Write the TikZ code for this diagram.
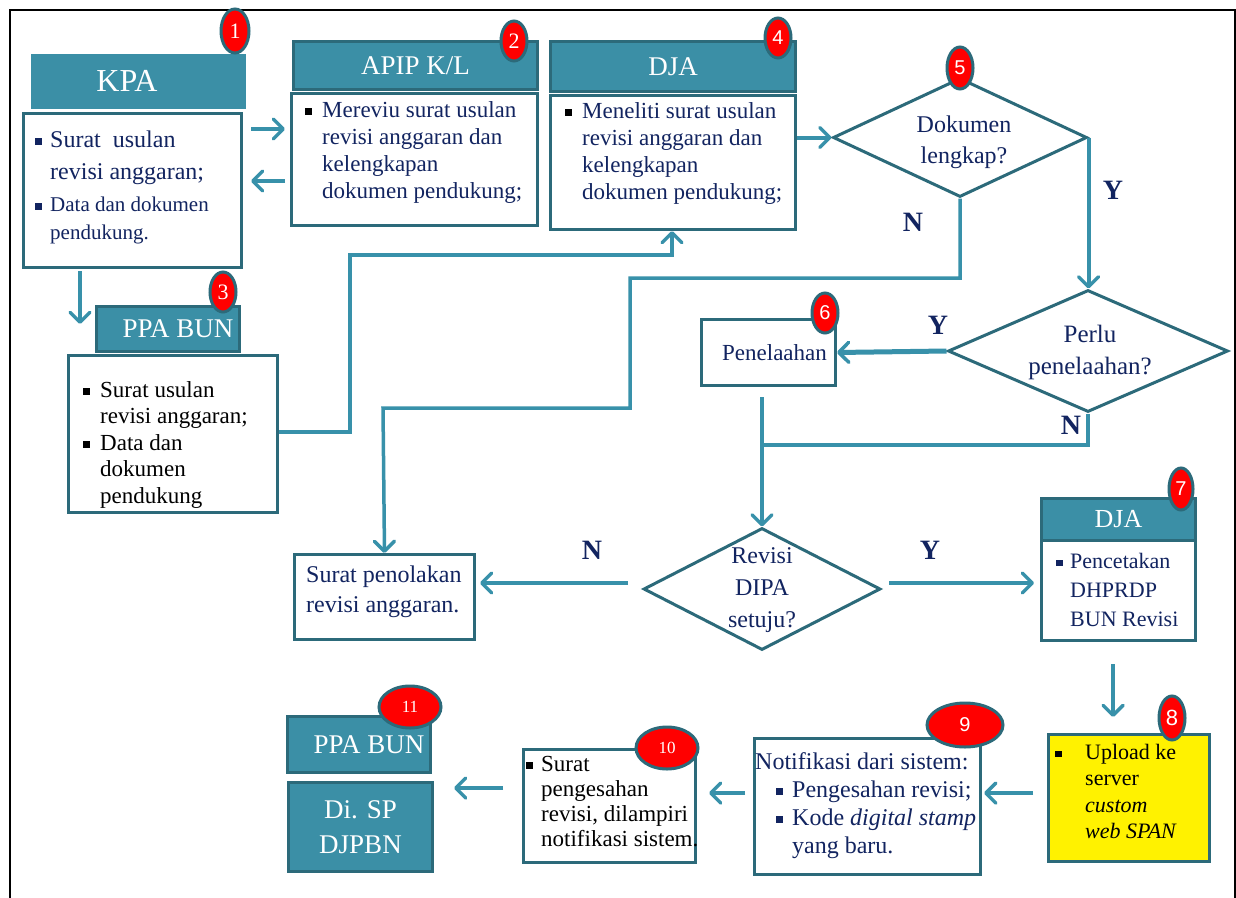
\documentclass[tikz,border=0pt]{standalone}
\usepackage{fontspec}
\setmainfont{Liberation Serif}
\newfontfamily\sansf{Liberation Sans}
\usetikzlibrary{shapes.geometric,arrows.meta}
\definecolor{tealf}{RGB}{59,143,166}
\definecolor{teald}{RGB}{44,106,122}
\definecolor{arrc}{RGB}{56,145,170}
\definecolor{navy}{RGB}{18,36,96}
\newcommand\bsq{\rule[0.1em]{0.3em}{0.3em}}
\newcommand\bli[2]{\makebox[#1][l]{\textcolor{#2}{\bsq}}}
\newcommand\myind[1]{\hspace*{#1}}
\newcommand\fsz[2]{\fontsize{#1}{#2}\selectfont}
\begin{document}
\begin{tikzpicture}[x=1pt,y=-1pt,
 box/.style={draw=teald,line width=3pt,fill=white,inner sep=0pt,anchor=north west},
 hdr/.style={draw=teald,line width=3pt,fill=tealf,text=white,inner sep=0pt,anchor=north west},
 txt/.style={inner sep=0pt,anchor=north west,align=left},
 badge/.style={ellipse,draw=teald,line width=3pt,fill=red,text=white,inner sep=0pt},
 dia/.style={diamond,draw=teald,line width=3pt,fill=white,inner sep=0pt},
 dtxt/.style={text=navy,align=center,inner sep=0pt},
 arr/.style={draw=arrc,line width=4pt,-{Straight Barb[length=10pt,width=20pt,line width=3.5pt,round]}},
 ln/.style={draw=arrc,line width=3.5pt},
 lab/.style={text=navy,font=\fsz{28}{32}\bfseries,inner sep=0pt},
]
\useasboundingbox (0,0) rectangle (1236,897);
\fill[white] (0,0) rectangle (1236,897);
\draw[line width=2.5pt] (10,905) -- (10,10) -- (1235,10) -- (1235,905);

% KPA
\node[hdr,draw=none,minimum width=215pt,minimum height=55pt,font=\fsz{32}{36}] (kpah) at (29,52) {KPA\hspace*{22pt}};
\node[box,minimum width=218pt,minimum height=154pt] (kpab) at (22,112) {};
\node[txt,text=navy,font=\fsz{24}{32}] (kpat1) at (35,131) {\bli{15pt}{navy}Surat\ \ usulan\\\myind{15pt}revisi anggaran;};
\node[txt,text=navy,font=\fsz{21}{28}] (kpat2) at (35,197) {\bli{15pt}{navy}Data dan dokumen\\\myind{15pt}pendukung.};

% APIP
\node[hdr,minimum width=244pt,minimum height=48pt,font=\fsz{27}{30}] (apiph) at (292,40) {APIP K/L};
\node[box,minimum width=246pt,minimum height=132pt] (apipb) at (290,92) {};
\node[txt,text=navy,font=\fsz{23}{27}] (apipt) at (305,101) {\bli{17pt}{black}Mereviu surat usulan\\\myind{17pt}revisi anggaran dan\\\myind{17pt}kelengkapan\\\myind{17pt}dokumen pendukung;};

% DJA 4
\node[hdr,minimum width=245pt,minimum height=50pt,font=\fsz{27}{30}] (djah) at (549,40) {DJA};
\node[box,minimum width=245pt,minimum height=134pt] (djab) at (549,94) {};
\node[txt,text=navy,font=\fsz{23}{27}] (djat) at (565,102) {\bli{17pt}{black}Meneliti surat usulan\\\myind{17pt}revisi anggaran dan\\\myind{17pt}kelengkapan\\\myind{17pt}dokumen pendukung;};

% PPA BUN 3
\node[hdr,minimum width=143pt,minimum height=45pt,font=\fsz{27}{30}] (ppah) at (95,305) {\hspace*{20pt}PPA BUN};
\node[box,minimum width=209pt,minimum height=157pt] (ppab) at (67,354) {};
\node[txt,font=\fsz{23}{26.5}] (ppat) at (83,381) {\bli{17pt}{black}Surat usulan\\\myind{17pt}revisi anggaran;\\\bli{17pt}{black}Data dan\\\myind{17pt}dokumen\\\myind{17pt}pendukung};

% Penelaahan
\node[box,minimum width=134pt,minimum height=66pt,text=navy,font=\fsz{23}{27}] (pen) at (700,318) {\hspace*{12pt}Penelaahan};

% Surat penolakan
\node[box,minimum width=180pt,minimum height=85pt] (tolak) at (293,553) {};
\node[txt,text=navy,font=\fsz{24}{30}] (tolakt) at (306,566) {Surat penolakan\\revisi anggaran.};

% DJA 7
\node[hdr,minimum width=154pt,minimum height=42pt,font=\fsz{26}{30}] (dja7h) at (1040,497) {DJA};
\node[box,minimum width=154pt,minimum height=100pt] (dja7b) at (1040,539) {};
\node[txt,text=navy,font=\fsz{22}{29}] (dja7t) at (1056,553) {\bli{14pt}{navy}Pencetakan\\\myind{14pt}DHPRDP\\\myind{14pt}BUN Revisi};

% Upload 8
\node[box,fill=yellow,minimum width=161pt,minimum height=127pt] (upl) at (1047,733) {};
\node[txt,font=\fsz{22}{26.5}] (uplt) at (1055,744) {\bli{30pt}{black}Upload ke\\\myind{30pt}server\\\myind{30pt}\textit{custom}\\\myind{30pt}\textit{web SPAN}};

% Notifikasi 9
\node[box,minimum width=226pt,minimum height=136pt] (notif) at (753,737) {};
\node[txt,text=navy,font=\fsz{24}{28}] (notift) at (755,752) {Notifikasi dari sistem:\\\myind{21pt}\bli{16pt}{navy}Pengesahan revisi;\\\myind{21pt}\bli{16pt}{navy}Kode \textit{digital stamp}\\\myind{37pt}yang baru.};

% Surat pengesahan 10
\node[box,minimum width=172pt,minimum height=113pt] (sah) at (522,748) {};
\node[txt,font=\fsz{23}{25}] (saht) at (526,756) {\bli{15pt}{black}Surat\\\myind{15pt}pengesahan\\\myind{15pt}revisi, dilampiri\\\myind{15pt}notifikasi sistem.};

% PPA BUN 11 and Di. SP
\node[hdr,minimum width=143pt,minimum height=56pt,font=\fsz{27}{30}] (ppa11) at (286,715) {\hspace*{20pt}PPA BUN};
\node[hdr,minimum width=144pt,minimum height=89pt,font=\fsz{27}{35},align=center] (disp) at (287,781) {Di. SP\\DJPBN};

% Diamonds
\node[dia,minimum width=254pt,minimum height=119pt] (d5) at (960,137.5) {};
\node[dtxt,font=\fsz{24}{31}] (d5t) at (964,142) {Dokumen\\lengkap?};
\node[dia,minimum width=280pt,minimum height=122pt] (d2) at (1088,351) {};
\node[dtxt,font=\fsz{25}{32}] (d2t) at (1090,352) {Perlu\\penelaahan?};
\node[dia,minimum width=237pt,minimum height=122pt] (d3) at (762,589) {};
\node[dtxt,font=\fsz{24}{32}] (d3t) at (762,590) {Revisi\\DIPA\\setuju?};

% Labels
\node[lab] (lN1) at (913,222) {N};
\node[lab] (lY1) at (1113,190) {Y};
\node[lab] (lY2) at (938,325) {Y};
\node[lab] (lN2) at (1071,425) {N};
\node[lab] (lN3) at (592,550) {N};
\node[lab] (lY3) at (930,550) {Y};

% Connectors
\draw[arr,shorten <=8pt,shorten >=5pt] (kpab.east |- 0,129) -- (apipb.west |- 0,129);
\draw[arr,shorten <=5pt,shorten >=8pt] (apipb.west |- 0,181) -- (kpab.east |- 0,181);
\coordinate (c3) at (80,324);
\draw[arr,shorten <=2pt] (c3 |- kpab.south) -- (c3);
\draw[arr,line width=3.5pt] (ppab.east |- 0,432) -- (350,432) -- (350,255) -- (672,255) -- (672,0 |- djab.south);
\draw[arr] (djab.east |- d5.west) -- (d5.west);
\draw[arr] (d5.east) -- (d5.east |- d2.north);
\draw[arr,line width=3.5pt] (d5.south) -- (960,278) -- (630,278) -- (630,408) -- (383,408) -- (tolak.north);
\draw[arr,line width=5pt] (d2.west) -- (pen.east);
\draw[arr,shorten <=10pt] (d3.north |- pen.south) -- (d3.north);
\draw[ln] (d2.south) -- (d2.south |- 0,445) -- (d3.north |- 0,445);
\draw[arr,shorten <=14pt,shorten >=4pt] (d3.west |- 0,583) -- (tolak.east |- 0,583);
\draw[arr,shorten <=7pt,shorten >=6pt] (d3.east |- 0,583) -- (dja7b.west |- 0,583);
\draw[arr,shorten <=22pt,shorten >=16pt] (1113,0 |- dja7b.south) -- (1113,0 |- upl.north);
\draw[arr,shorten <=14pt,shorten >=2pt] (upl.west |- 0,793) -- (notif.east |- 0,793);
\draw[arr,shorten <=8pt,shorten >=12pt] (notif.west |- 0,793) -- (sah.east |- 0,793);
\draw[arr,shorten <=19pt,shorten >=20pt] (sah.west |- 0,788) -- (disp.east |- 0,788);

% Badges
\node[badge,minimum width=28pt,minimum height=44pt,font=\fsz{22}{24}] (b1) at (235,31) {1};
\node[badge,minimum width=26pt,minimum height=40pt,font=\fsz{22}{24}] (b2) at (514,41) {2};
\node[badge,minimum width=26pt,minimum height=40pt,font=\sansf\fsz{20}{24}] (b4) at (778,38) {4};
\node[badge,minimum width=26pt,minimum height=42pt,font=\sansf\fsz{20}{24}] (b5) at (960,68) {5};
\node[badge,minimum width=26pt,minimum height=40pt,font=\fsz{22}{24}] (b3) at (223,292) {3};
\node[badge,minimum width=26pt,minimum height=40pt,font=\sansf\fsz{20}{24}] (b6) at (825,313) {6};
\node[badge,minimum width=24pt,minimum height=42pt,font=\sansf\fsz{20}{24}] (b7) at (1181,489) {7};
\node[badge,minimum width=26pt,minimum height=44pt,font=\sansf\fsz{22}{24}] (b8) at (1172,718) {8};
\node[badge,minimum width=76pt,minimum height=44pt,font=\sansf\fsz{20}{24}] (b9) at (965,725) {9};
\node[badge,minimum width=62pt,minimum height=42pt,font=\fsz{17}{20}] (b10) at (667,748) {10};
\node[badge,minimum width=62pt,minimum height=42pt,font=\fsz{17}{20}] (b11) at (410,707) {11};
\end{tikzpicture}
\end{document}
